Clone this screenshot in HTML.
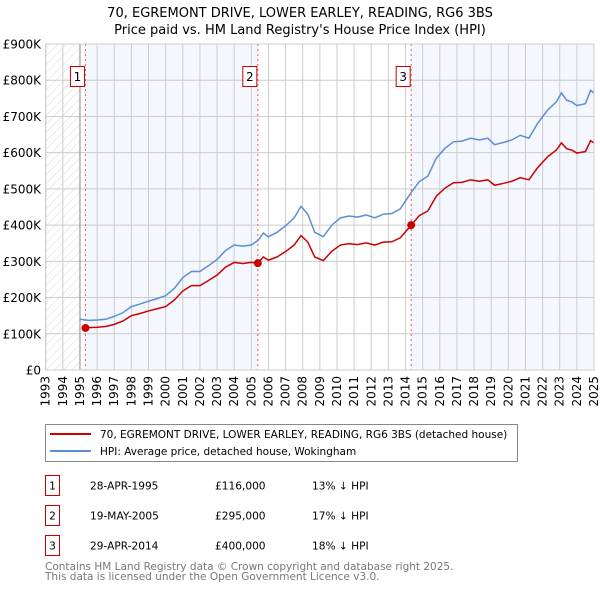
<!DOCTYPE html>
<html><head><meta charset="utf-8"><style>
body{margin:0;background:#fff;font-family:"DejaVu Sans","Liberation Sans",sans-serif;}
svg text{font-family:"DejaVu Sans","Liberation Sans",sans-serif;}
</style></head><body>
<svg id="chart" width="600" height="590" xmlns="http://www.w3.org/2000/svg">
<text x="300" y="17" text-anchor="middle" font-size="13">70, EGREMONT DRIVE, LOWER EARLEY, READING, RG6 3BS</text>
<text x="300" y="34" text-anchor="middle" font-size="13">Price paid vs. HM Land Registry's House Price Index (HPI)</text>
<g id="plot"></g>
<g>
<rect x="45.5" y="424.5" width="472" height="37" fill="#fff" stroke="#888"/>
<line x1="50" y1="434" x2="91" y2="434" stroke="#cc0000" stroke-width="2"/>
<text x="100" y="438" font-size="10.5">70, EGREMONT DRIVE, LOWER EARLEY, READING, RG6 3BS (detached house)</text>
<line x1="50" y1="451" x2="91" y2="451" stroke="#5b8fd6" stroke-width="2"/>
<text x="100" y="455" font-size="10.5">HPI: Average price, detached house, Wokingham</text>
</g>
<g font-size="10.6" id="table"></g>
<text x="45" y="570" font-size="10.5" fill="#777">Contains HM Land Registry data © Crown copyright and database right 2025.</text>
<text x="45" y="580" font-size="10.5" fill="#777">This data is licensed under the Open Government Licence v3.0.</text>
</svg>
<script>
const yTicks=[0,100,200,300,400,500,600,700,800,900];
const yTickLabels=["£0","£100K","£200K","£300K","£400K","£500K","£600K","£700K","£800K","£900K"];
const years=[1993,1994,1995,1996,1997,1998,1999,2000,2001,2002,2003,2004,2005,2006,2007,2008,2009,2010,2011,2012,2013,2014,2015,2016,2017,2018,2019,2020,2021,2022,2023,2024,2025];
const hpiDates=[1995.0,1995.5,1996.0,1996.5,1997.0,1997.5,1998.0,1998.5,1999.0,1999.5,2000.0,2000.5,2001.0,2001.5,2002.0,2002.5,2003.0,2003.5,2004.0,2004.5,2005.0,2005.4,2005.7,2006.0,2006.5,2007.0,2007.5,2007.9,2008.3,2008.7,2009.2,2009.7,2010.2,2010.7,2011.2,2011.7,2012.2,2012.7,2013.2,2013.7,2014.3,2014.8,2015.3,2015.8,2016.3,2016.8,2017.3,2017.8,2018.3,2018.8,2019.2,2019.7,2020.2,2020.7,2021.2,2021.7,2022.3,2022.8,2023.1,2023.4,2023.7,2024.0,2024.5,2024.8,2025.0];
const hpiValues=[140,137,138,140,148,158,175,182,190,197,205,225,255,272,272,288,305,330,345,342,345,358,378,368,380,398,420,452,430,380,368,400,420,425,422,428,420,430,432,445,488,520,535,585,612,630,632,640,635,640,622,628,635,648,640,680,718,740,765,745,740,730,735,772,765];
const redDates=[1995.32,1995.5,1996.0,1996.5,1997.0,1997.5,1998.0,1998.5,1999.0,1999.5,2000.0,2000.5,2001.0,2001.5,2002.0,2002.5,2003.0,2003.5,2004.0,2004.5,2005.0,2005.38,2005.7,2006.0,2006.5,2007.0,2007.5,2007.9,2008.3,2008.7,2009.2,2009.7,2010.2,2010.7,2011.2,2011.7,2012.2,2012.7,2013.2,2013.7,2014.33,2014.8,2015.3,2015.8,2016.3,2016.8,2017.3,2017.8,2018.3,2018.8,2019.2,2019.7,2020.2,2020.7,2021.2,2021.7,2022.3,2022.8,2023.1,2023.4,2023.7,2024.0,2024.5,2024.8,2025.0];
const redValues=[116,117,118,120,126,135,150,156,163,169,175,193,218,233,233,247,262,284,297,294,297,295,312,303,312,327,345,371,353,312,302,328,345,349,346,351,345,353,354,365,400,426,439,480,502,517,518,525,521,525,510,515,521,531,525,558,589,607,627,611,607,599,603,633,627];
const saleLabels=["1","2","3"];
const saleDates=[1995.32,2005.38,2014.33];
const salePrices=[116,295,400];
const saleDateText=["28-APR-1995","19-MAY-2005","29-APR-2014"];
const salePriceText=["£116,000","£295,000","£400,000"];
const saleHpiText=["13% ↓ HPI","17% ↓ HPI","18% ↓ HPI"];

const X0=45.7,X1=594,Y0=370,Y1=44;
const xs=t=>X0+(t-1993)/(2025-1993)*(X1-X0);
const ys=v=>Y0-v/900*(Y0-Y1);
const NS="http://www.w3.org/2000/svg";
const plot=document.getElementById('plot');
function mk(tag,attrs,parent){const e=document.createElementNS(NS,tag);for(const k in attrs)e.setAttribute(k,attrs[k]);(parent||plot).appendChild(e);return e;}
const defs=mk('defs',{});
const pat=mk('pattern',{id:'hatch',width:6,height:6,patternUnits:'userSpaceOnUse',patternTransform:'rotate(45)'},defs);
mk('line',{x1:0,y1:0,x2:0,y2:6,stroke:'#d8d8d8','stroke-width':1},pat);
const hatch=mk('rect',{x:xs(1993),y:Y1,width:xs(1995)-xs(1993),height:Y0-Y1,fill:'url(#hatch)'});


const b1=mk('rect',{x:xs(saleDates[0]),y:Y1,width:xs(saleDates[1])-xs(saleDates[0]),height:Y0-Y1,fill:'#f4f7fd'});


const b3=mk('rect',{x:xs(saleDates[2]),y:Y1,width:X1-xs(saleDates[2]),height:Y0-Y1,fill:'#f4f7fd'});


years.forEach(y=>{
  const g=mk('line',{x1:xs(y),x2:xs(y),y1:Y1,y2:Y0,stroke:'#ccc','stroke-width':1});
  
  
  const tx=xs(y)+4,ty=Y0+6;
  const t=mk('text',{x:tx,y:ty,'font-size':12,'text-anchor':'end',transform:`rotate(-90 ${tx} ${ty})`});
  t.textContent=y;
  
  
});
yTicks.forEach((v,i)=>{
  const g=mk('line',{x1:X0,x2:X1,y1:ys(v),y2:ys(v),stroke:'#ccc','stroke-width':1});
  
  
  const t=mk('text',{x:41,y:ys(v)+4.5,'font-size':12,'text-anchor':'end'});
  t.textContent=yTickLabels[i];
  
  
});
mk('line',{x1:xs(1995),x2:xs(1995),y1:Y1,y2:Y0,stroke:'#888','stroke-width':1});
saleDates.forEach((d,i)=>{
  const l=mk('line',{x1:xs(d),x2:xs(d),y1:Y1,y2:Y0,stroke:'#e06060','stroke-width':1,'stroke-dasharray':'2,3'});
  
  
  const r=mk('rect',{x:xs(d)-15,y:66.5,width:14,height:20,fill:'#fff',stroke:'#cc0000'});
  
  
  const t=mk('text',{x:xs(d)-8,y:81,'font-size':12,'text-anchor':'middle'});
  t.textContent=saleLabels[i];
  
  
});
const hp=mk('polyline',{points:hpiDates.map((d,i)=>xs(d)+','+ys(hpiValues[i])).join(' '),fill:'none',stroke:'#5b8fd6','stroke-width':1.5});


const rp=mk('polyline',{points:redDates.map((d,i)=>xs(d)+','+ys(redValues[i])).join(' '),fill:'none',stroke:'#cc0000','stroke-width':1.5});


saleDates.forEach((d,i)=>{
  const c=mk('circle',{cx:xs(d),cy:ys(salePrices[i]),r:4,fill:'#cc0000'});
  
  
});
mk('rect',{x:X0,y:Y1,width:X1-X0,height:Y0-Y1,fill:'none',stroke:'#ccc'});
const tb=document.getElementById('table');
saleLabels.forEach((s,i)=>{
  const y=478+i*30;
  const r=mk('rect',{x:45.5,y:y-2.5,width:14,height:20,fill:'#fff',stroke:'#cc0000'},tb);
  
  
  const vals=[[52.5,s,'middle'],[90,saleDateText[i],'start'],[215,salePriceText[i],'start'],[312,saleHpiText[i],'start']];
  vals.forEach(v=>{
    const t=mk('text',{x:v[0],y:y+11.5,'text-anchor':v[2]},tb);
    t.textContent=v[1];
    
    
  });
});
</script>
</body></html>
